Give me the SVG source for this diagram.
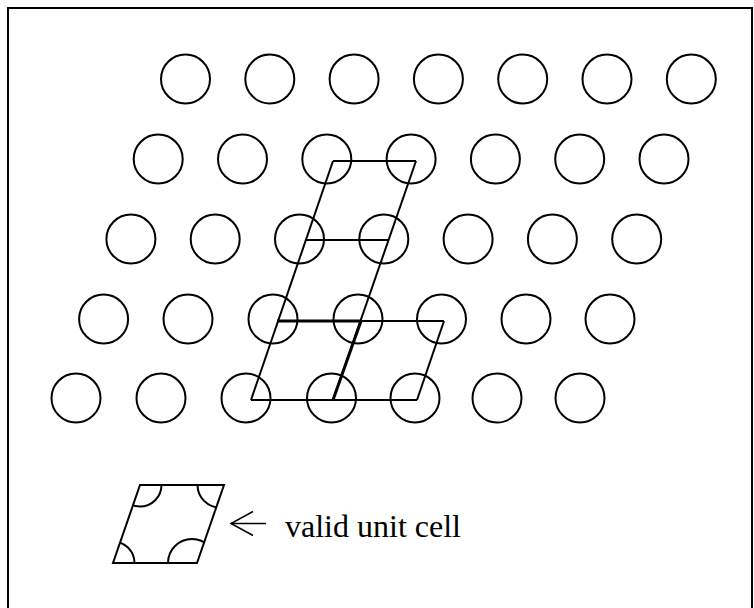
<svg xmlns="http://www.w3.org/2000/svg" width="754" height="608" viewBox="0 0 754 608">
<style>
.c{fill:none;stroke:#000;stroke-width:2}
.l{fill:none;stroke:#000;stroke-width:2;stroke-linejoin:miter}
.t{stroke-width:3}
.txt{font-family:"Liberation Serif","Times New Roman",serif;font-size:32px;fill:#000}
</style>
<defs>
<clipPath id="cellclip"><polygon points="113,563 197,563 224,485 140,485"/></clipPath>
</defs>
<rect x="8" y="8" width="744" height="640" fill="none" stroke="#000" stroke-width="2"/>
<g id="row1">
<g id="c1-1"><circle class="c" cx="185.5" cy="79" r="24.5"/></g>
<g id="c1-2"><circle class="c" cx="269.8" cy="79" r="24.5"/></g>
<g id="c1-3"><circle class="c" cx="354.1" cy="79" r="24.5"/></g>
<g id="c1-4"><circle class="c" cx="438.4" cy="79" r="24.5"/></g>
<g id="c1-5"><circle class="c" cx="522.7" cy="79" r="24.5"/></g>
<g id="c1-6"><circle class="c" cx="607" cy="79" r="24.5"/></g>
<g id="c1-7"><circle class="c" cx="691.3" cy="79" r="24.5"/></g>
</g>
<g id="row2">
<g id="c2-1"><circle class="c" cx="158.2" cy="159" r="24.5"/></g>
<g id="c2-2"><circle class="c" cx="242.5" cy="159" r="24.5"/></g>
<g id="c2-3"><circle class="c" cx="326.8" cy="159" r="24.5"/></g>
<g id="c2-4"><circle class="c" cx="411.1" cy="159" r="24.5"/></g>
<g id="c2-5"><circle class="c" cx="495.4" cy="159" r="24.5"/></g>
<g id="c2-6"><circle class="c" cx="579.7" cy="159" r="24.5"/></g>
<g id="c2-7"><circle class="c" cx="664" cy="159" r="24.5"/></g>
</g>
<g id="row3">
<g id="c3-1"><circle class="c" cx="130.9" cy="239" r="24.5"/></g>
<g id="c3-2"><circle class="c" cx="215.2" cy="239" r="24.5"/></g>
<g id="c3-3"><circle class="c" cx="299.5" cy="239" r="24.5"/></g>
<g id="c3-4"><circle class="c" cx="383.8" cy="239" r="24.5"/></g>
<g id="c3-5"><circle class="c" cx="468.1" cy="239" r="24.5"/></g>
<g id="c3-6"><circle class="c" cx="552.4" cy="239" r="24.5"/></g>
<g id="c3-7"><circle class="c" cx="636.7" cy="239" r="24.5"/></g>
</g>
<g id="row4">
<g id="c4-1"><circle class="c" cx="103.6" cy="319" r="24.5"/></g>
<g id="c4-2"><circle class="c" cx="188" cy="319" r="24.5"/></g>
<g id="c4-3"><circle class="c" cx="273" cy="319" r="24.5"/></g>
<g id="c4-4"><circle class="c" cx="358" cy="319" r="24.5"/></g>
<g id="c4-5"><circle class="c" cx="441.5" cy="319" r="24.5"/></g>
<g id="c4-6"><circle class="c" cx="526" cy="319" r="24.5"/></g>
<g id="c4-7"><circle class="c" cx="610" cy="319" r="24.5"/></g>
</g>
<g id="row5">
<g id="c5-1"><circle class="c" cx="76" cy="398" r="24.5"/></g>
<g id="c5-2"><circle class="c" cx="161" cy="398" r="24.5"/></g>
<g id="c5-3"><circle class="c" cx="246" cy="398" r="24.5"/></g>
<g id="c5-4"><circle class="c" cx="331.5" cy="398" r="24.5"/></g>
<g id="c5-5"><circle class="c" cx="415" cy="398" r="24.5"/></g>
<g id="c5-6"><circle class="c" cx="497" cy="398" r="24.5"/></g>
<g id="c5-7"><circle class="c" cx="580" cy="398" r="24.5"/></g>
</g>
<g id="connectors">
<line class="l" x1="333" y1="161" x2="251" y2="400"/>
<line class="l" x1="416" y1="161" x2="333" y2="400"/>
<line class="l" x1="444" y1="321" x2="417" y2="400"/>
<line class="l" x1="333" y1="161" x2="416" y2="161"/>
<line class="l" x1="305" y1="240" x2="388" y2="240"/>
<line class="l" x1="277" y1="321" x2="444" y2="321"/>
<line class="l" x1="251" y1="400" x2="417" y2="400"/>
<line class="l t" x1="277" y1="321" x2="361" y2="321"/>
<line class="l t" x1="361" y1="321" x2="333" y2="400"/>
</g>
<g id="legend-cell">
<polygon class="l" points="113,563 197,563 224,485 140,485"/>
<g clip-path="url(#cellclip)">
<circle class="c" cx="140" cy="485" r="21.5"/>
<circle class="c" cx="220" cy="485" r="22.5"/>
<circle class="c" cx="113" cy="563" r="21.5"/>
<circle class="c" cx="192" cy="563" r="24"/>
</g>
</g>
<g id="legend-arrow">
<line x1="231" y1="523.5" x2="266" y2="523.5" stroke="#000" stroke-width="1.5"/>
<polyline points="253,511.5 231,523.5 253,535.5" fill="none" stroke="#000" stroke-width="1.5"/>
</g>
<g id="legend-label">
<text class="txt" x="285" y="537">valid unit cell</text>
</g>
</svg>
